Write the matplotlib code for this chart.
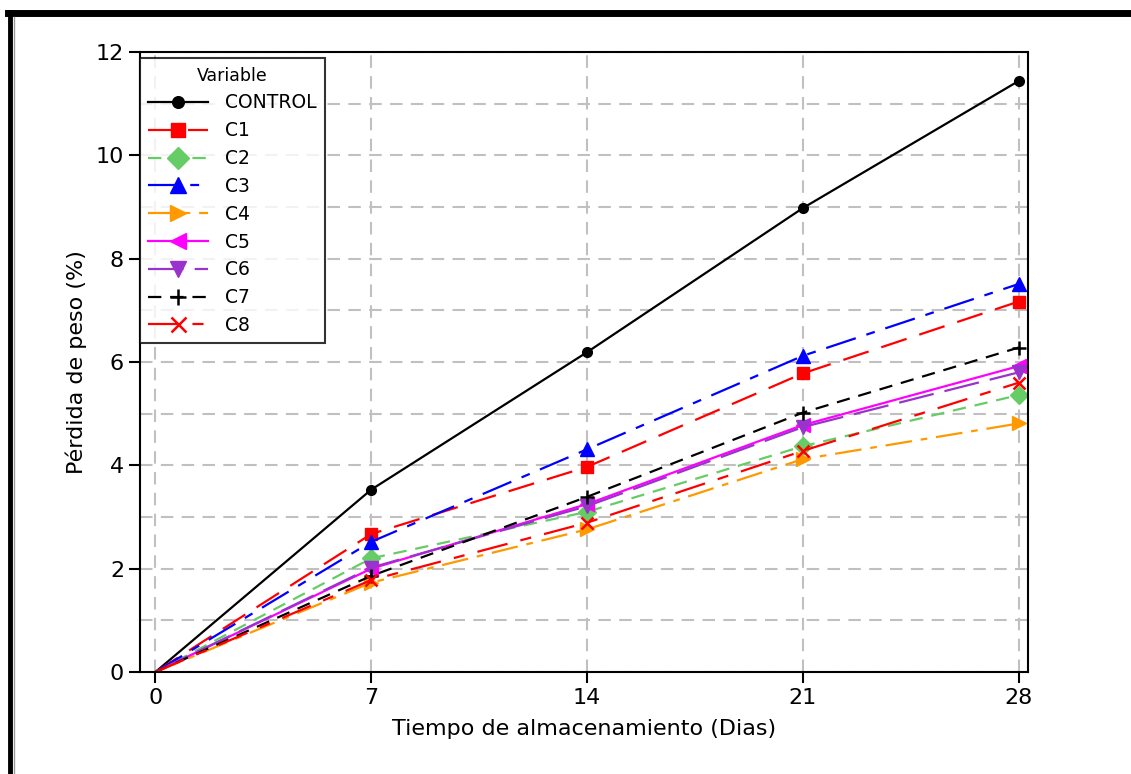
import matplotlib
matplotlib.use('Agg')
import matplotlib.pyplot as plt
from matplotlib.lines import Line2D

dias = [0, 7, 14, 21, 28]

control = [0, 3.53, 6.19, 8.98, 11.44]
c1 = [0, 2.67, 3.97, 5.78, 7.17]
c2 = [0, 2.20, 3.10, 4.37, 5.36]
c3 = [0, 2.52, 4.31, 6.12, 7.51]
c4 = [0, 1.73, 2.76, 4.12, 4.81]
c5 = [0, 2.00, 3.25, 4.78, 5.92]
c6 = [0, 2.02, 3.21, 4.74, 5.80]
c7 = [0, 1.86, 3.39, 5.02, 6.28]
c8 = [0, 1.78, 2.89, 4.28, 5.60]

nombres = ['CONTROL', 'C1', 'C2', 'C3', 'C4', 'C5', 'C6', 'C7', 'C8']
series = [control, c1, c2, c3, c4, c5, c6, c7, c8]
colores = ['black', '#ff0000', '#66cc66', '#0000ff', '#ff9900', '#ff00ff', '#9933cc', 'black', '#ff0000']
marcadores = ['o', 's', 'D', '^', '>', '<', 'v', '+', 'x']
estilos = ['-', (0, (12, 6)), (0, (6, 4)), (0, (14, 5, 4, 5)), (0, (12, 4, 3, 4)),
           '-', (0, (16, 5)), (0, (6, 4)), (0, (14, 6, 5, 6))]
tam = [7, 8, 9, 10, 10, 10, 10, 10, 9]

fig = plt.figure(figsize=(11.31, 7.74), dpi=100)
ax = fig.add_axes([0.1238, 0.1318, 0.7851, 0.801])

for i in range(len(nombres)):
    ax.plot(dias, series[i], color=colores[i], linestyle=estilos[i], linewidth=1.6,
            marker=marcadores[i], markersize=tam[i], markevery=[1, 2, 3, 4],
            markeredgewidth=1.8 if marcadores[i] in '+x' else 1,
            markeredgecolor=colores[i], label=nombres[i])

ax.set_xlim(-0.5, 28.3)
ax.set_ylim(0, 12)
ax.set_xticks(dias)
ax.set_yticks([0, 2, 4, 6, 8, 10, 12])
ax.set_yticks(range(0, 13), minor=True)
ax.tick_params(axis='both', which='major', direction='out', length=8, width=1.5, labelsize=16)
ax.tick_params(axis='y', which='minor', length=0)
ax.grid(True, which='both', color='#c0c0c0', linestyle=(0, (6, 4)), linewidth=1.5)
ax.set_axisbelow(True)
for s in ax.spines.values():
    s.set_linewidth(1.5)

ax.set_xlabel('Tiempo de almacenamiento (Dias)', fontsize=16, labelpad=8)
ax.set_ylabel('Pérdida de peso (%)', fontsize=16, labelpad=6)

leg = ax.legend(title='Variable', loc='upper left', bbox_to_anchor=(0.0, 0.99), fontsize=13.5,
                title_fontsize=12.5, frameon=True, fancybox=False, edgecolor='black',
                handlelength=3.2, labelspacing=0.47, handletextpad=0.9, borderpad=0.45,
                borderaxespad=0.0, markerscale=1.2)
leg.get_frame().set_linewidth(1.5)

# marco exterior
fig.add_artist(Line2D([0.007, 1.0], [0.983, 0.983], color='black', linewidth=5, transform=fig.transFigure))
fig.add_artist(Line2D([0.009, 0.009], [0.0, 0.985], color='black', linewidth=3.5, transform=fig.transFigure))
fig.add_artist(Line2D([0.012, 0.012], [0.0, 0.978], color='#999999', linewidth=1, transform=fig.transFigure))

fig.savefig('out.png', dpi=100)
